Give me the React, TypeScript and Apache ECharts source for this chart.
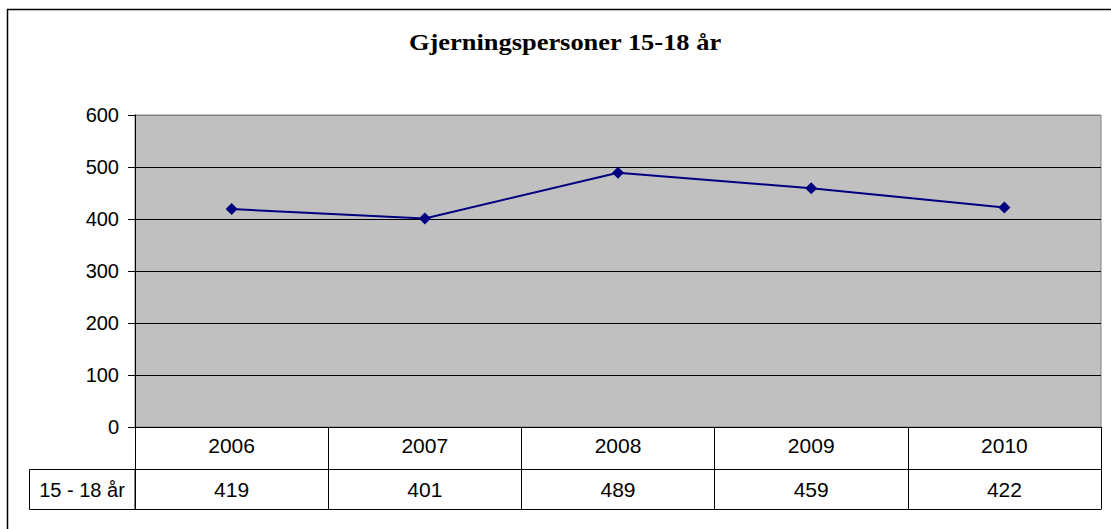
import React, { useEffect, useRef } from "react";
import * as echarts from "echarts";

const title = "Gjerningspersoner 15-18 år";
const seriesName = "15 - 18 år";
const years = ["2006", "2007", "2008", "2009", "2010"];
const values = [419, 401, 489, 459, 422];
const yTicks = { min: 0, max: 600, interval: 100 };

export default function App() {
  const ref = useRef<HTMLDivElement>(null);
  useEffect(() => {
    if (!ref.current) return;
    const chart = echarts.init(ref.current, null, { renderer: "svg" });
    const sans = "Liberation Sans, Arial, sans-serif";
    chart.setOption({
      animation: false,
      backgroundColor: "#ffffff",
      grid: {
        left: 135,
        top: 115,
        right: 10,
        bottom: 102,
        show: true,
        backgroundColor: "#C0C0C0",
        borderColor: "#808080",
        borderWidth: 1,
      },
      graphic: [
        {
          type: "rect",
          shape: { x: 7.5, y: 9.5, width: 1120, height: 540 },
          style: { fill: "none", stroke: "#000", lineWidth: 1.5 },
          silent: true,
        },
        {
          type: "text",
          x: 565,
          y: 42,
          scaleX: 1.15,
          style: {
            text: title,
            fontFamily: "Liberation Serif, Times New Roman, serif",
            fontWeight: "bold",
            fontSize: 23,
            fill: "#000",
            textAlign: "center",
            textVerticalAlign: "middle",
          },
        },
        {
          type: "rect",
          shape: { x: 29.5, y: 469.5, width: 105.5, height: 40 },
          style: { fill: "none", stroke: "#000", lineWidth: 1 },
        },
        {
          type: "text",
          x: 82,
          y: 490,
          style: {
            text: seriesName,
            fontFamily: sans,
            fontSize: 20,
            fill: "#000",
            textAlign: "center",
            textVerticalAlign: "middle",
          },
        },
      ],
      xAxis: [
        {
          type: "category",
          data: years,
          boundaryGap: true,
          position: "bottom",
          axisLine: { show: true, lineStyle: { color: "#000", width: 1 } },
          axisTick: { show: true, length: 42, lineStyle: { color: "#000" } },
          axisLabel: { color: "#000", fontSize: 21, fontFamily: sans, margin: 8 },
          splitLine: { show: false },
        },
        {
          type: "category",
          data: years,
          boundaryGap: true,
          position: "bottom",
          offset: 42,
          axisLine: { show: true, lineStyle: { color: "#000", width: 1 } },
          axisTick: { show: true, length: 40, lineStyle: { color: "#000" } },
          axisLabel: {
            color: "#000",
            fontSize: 21,
            fontFamily: sans,
            margin: 10,
            formatter: (_v: string, i: number) => String(values[i]),
          },
          splitLine: { show: false },
        },
        {
          type: "category",
          data: years,
          boundaryGap: true,
          position: "bottom",
          offset: 82,
          axisLine: { show: true, lineStyle: { color: "#000", width: 1 } },
          axisTick: { show: false },
          axisLabel: { show: false },
          splitLine: { show: false },
        },
      ],
      yAxis: {
        type: "value",
        min: yTicks.min,
        max: yTicks.max,
        interval: yTicks.interval,
        axisLine: { show: true, lineStyle: { color: "#000", width: 1 } },
        axisTick: { show: true, length: 7, lineStyle: { color: "#000" } },
        axisLabel: { color: "#000", fontSize: 20, fontFamily: sans, margin: 16 },
        splitLine: {
          show: true,
          lineStyle: {
            color: ["#000", "#000", "#000", "#000", "#000", "#000", "#808080"],
            width: 1,
          },
        },
      },
      series: [
        {
          name: seriesName,
          type: "line",
          xAxisIndex: 0,
          data: values,
          symbol: "diamond",
          symbolSize: 12,
          lineStyle: { color: "#000080", width: 2 },
          itemStyle: { color: "#000080" },
        },
      ],
    });
    return () => chart.dispose();
  }, []);
  return (
    <div
      ref={ref}
      style={{ position: "absolute", left: 0, top: 0, width: 1111, height: 529 }}
    />
  );
}
